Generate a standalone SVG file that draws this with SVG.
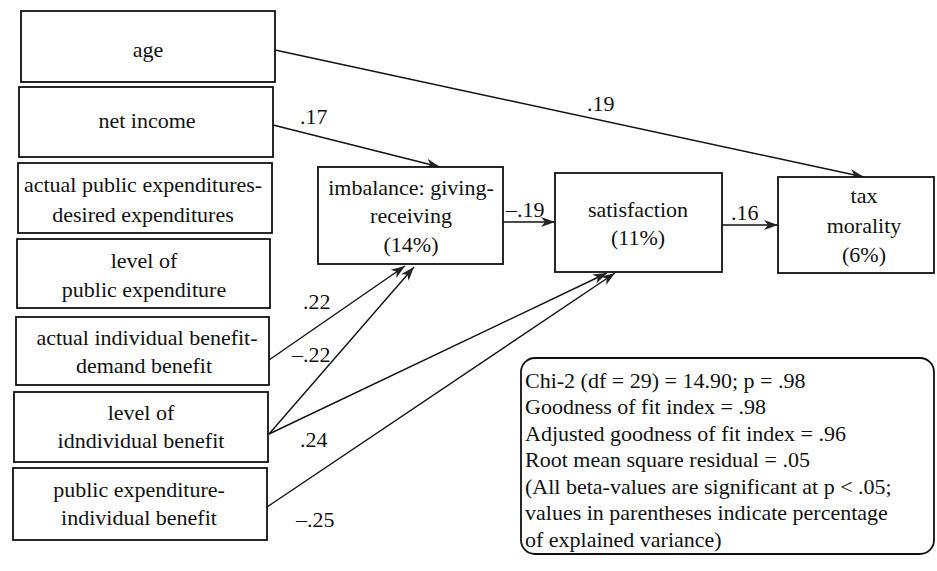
<svg xmlns="http://www.w3.org/2000/svg" width="937" height="571" viewBox="0 0 937 571">
<style>
.box{fill:#fff;stroke:#111;stroke-width:1.8}
.c{fill:none;stroke:#111;stroke-width:1.4;marker-end:url(#ah)}
</style>
<defs>
<marker id="ah" markerUnits="userSpaceOnUse" markerWidth="16" markerHeight="12" refX="14" refY="6" orient="auto">
<path d="M0,1 L14,6 L0,11 L4,6 Z" fill="#222"/>
</marker>
</defs>
<rect width="937" height="571" fill="#fff"/>
<g id="connectors">
<path class="c" d="M275,50 L864,177"/>
<path class="c" d="M273,125 L440,167"/>
<path class="c" d="M503,222 L555,222"/>
<path class="c" d="M722,225 L778,225"/>
<path class="c" d="M269,360 L405,266"/>
<path class="c" d="M269,434 L414,267"/>
<path class="c" d="M269,434 L607,273"/>
<path class="c" d="M267,507 L615,273"/>
<g font-family="Liberation Serif" font-size="22" fill="#111">
<text x="587" y="111">.19</text>
<text x="300" y="124">.17</text>
<text x="506" y="217">&#8211;.19</text>
<text x="731" y="220">.16</text>
<text x="303" y="309">.22</text>
<text x="292" y="362">&#8211;.22</text>
<text x="300" y="447">.24</text>
<text x="296" y="527">&#8211;.25</text>
</g>
</g>
<g font-family="Liberation Serif" font-size="22" fill="#111" text-anchor="middle">
<g id="age">
<rect class="box" x="21" y="11" width="254" height="71"/>
<text x="148" y="57">age</text>
</g>
<g id="net-income">
<rect class="box" x="19" y="87" width="254" height="70"/>
<text x="147" y="128">net income</text>
</g>
<g id="actual-public">
<rect class="box" x="18" y="163" width="254" height="70"/>
<text x="143" y="192">actual public expenditures-</text>
<text x="143" y="222">desired expenditures</text>
</g>
<g id="level-public">
<rect class="box" x="17" y="239" width="253" height="69"/>
<text x="144" y="268">level of</text>
<text x="144" y="297">public expenditure</text>
</g>
<g id="actual-individual">
<rect class="box" x="16" y="317" width="253" height="68"/>
<text x="147" y="345">actual individual benefit-</text>
<text x="144" y="373">demand benefit</text>
</g>
<g id="level-individual">
<rect class="box" x="14" y="392" width="254" height="70"/>
<text x="141" y="420">level of</text>
<text x="141" y="448">idndividual benefit</text>
</g>
<g id="public-individual">
<rect class="box" x="13" y="468" width="254" height="72"/>
<text x="139" y="497">public expenditure-</text>
<text x="139" y="525">individual benefit</text>
</g>
<g id="imbalance">
<rect class="box" x="318" y="167" width="185" height="97"/>
<text x="411" y="195">imbalance: giving-</text>
<text x="411" y="223">receiving</text>
<text x="411" y="252">(14%)</text>
</g>
<g id="satisfaction">
<rect class="box" x="555" y="173" width="167" height="99"/>
<text x="638" y="217">satisfaction</text>
<text x="638" y="245">(11%)</text>
</g>
<g id="tax-morality">
<rect class="box" x="778" y="177" width="156" height="96"/>
<text x="864" y="203">tax</text>
<text x="864" y="233">morality</text>
<text x="864" y="262">(6%)</text>
</g>
</g>
<g id="stats" font-family="Liberation Serif" font-size="22" fill="#111">
<rect class="box" x="521" y="358" width="413" height="196" rx="14"/>
<text x="525" y="388">Chi-2 (df = 29) = 14.90; p = .98</text>
<text x="525" y="414">Goodness of fit index = .98</text>
<text x="525" y="441">Adjusted goodness of fit index = .96</text>
<text x="525" y="467">Root mean square residual = .05</text>
<text x="525" y="494">(All beta-values are significant at p &lt; .05;</text>
<text x="525" y="520">values in parentheses indicate percentage</text>
<text x="525" y="547">of explained variance)</text>
</g>
</svg>
